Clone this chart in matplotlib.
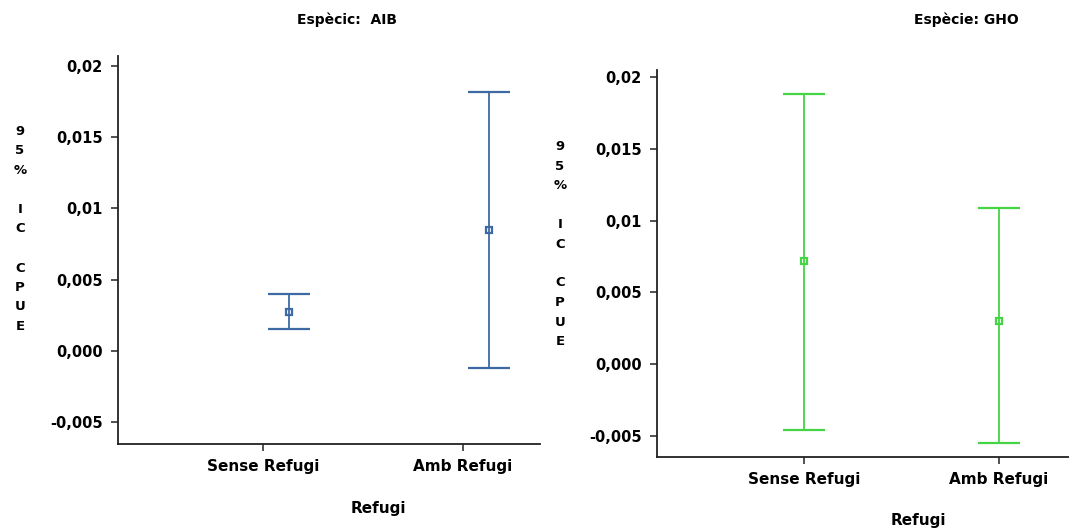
import numpy as np
import matplotlib.pyplot as plt

# categories and 95% CI of CPUE per species
categories = ['Sense Refugi', 'Amb Refugi']
yticks = [-0.005, 0.0, 0.005, 0.01, 0.015, 0.02]
ytick_labels = ['-0,005', '0,000', '0,005', '0,01', '0,015', '0,02']

aib_mean = [0.0027, 0.0085]
aib_low = [0.0015, -0.0012]
aib_high = [0.0040, 0.0182]

gho_mean = [0.0072, 0.0030]
gho_low = [-0.00455, -0.0055]
gho_high = [0.0188, 0.0109]

fig = plt.figure(figsize=(10.69, 5.28), dpi=100)


def panel(rect, mean, low, high, color, xoff, xlim, ylim):
    ax = fig.add_axes(rect)
    x = np.arange(len(categories)) + xoff
    mean = np.array(mean)
    yerr = [mean - np.array(low), np.array(high) - mean]
    ax.errorbar(x, mean, yerr=yerr, fmt='s', color=color, ms=4, mfc='none',
                mew=1.6, capsize=15, elinewidth=1.3, capthick=1.3)
    ax.set_xticks(np.arange(len(categories)))
    ax.set_xticklabels(categories, fontsize=11, fontweight='bold')
    ax.set_yticks(yticks)
    ax.set_yticklabels(ytick_labels, fontsize=10.5, fontweight='bold')
    ax.set_xlim(*xlim)
    ax.set_ylim(*ylim)
    for s in ['top', 'right']:
        ax.spines[s].set_visible(False)
    for s in ['left', 'bottom']:
        ax.spines[s].set_linewidth(1.3)
        ax.spines[s].set_color('#222222')
    ax.tick_params(length=5, width=1.1, color='#222222', pad=6)
    return ax


panel([0.1104, 0.1591, 0.3947, 0.7348], aib_mean, aib_low, aib_high,
      '#3d6aa2', 0.13, (-0.725, 1.385), (-0.00654, 0.0207))
panel([0.6146, 0.1345, 0.3854, 0.7330], gho_mean, gho_low, gho_high,
      '#44d444', 0.0, (-0.754, 1.36), (-0.00646, 0.0205))

fig.text(347 / 1069, 1 - 20 / 528, 'Espècic:  AIB', ha='center', va='center',
         fontsize=10, fontweight='bold')
fig.text(966 / 1069, 1 - 20 / 528, 'Espècie: GHO', ha='center', va='center',
         fontsize=10, fontweight='bold')

ylab = '9\n5\n%\n\nI\nC\n\nC\nP\nU\nE'
fig.text(20 / 1069, 1 - 229 / 528, ylab, ha='center', va='center',
         fontsize=9.5, fontweight='bold', linespacing=1.65)
fig.text(560 / 1069, 1 - 244 / 528, ylab, ha='center', va='center',
         fontsize=9.5, fontweight='bold', linespacing=1.65)

fig.text(378 / 1069, 1 - 508 / 528, 'Refugi', ha='center', va='center',
         fontsize=11, fontweight='bold')
fig.text(918 / 1069, 1 - 520 / 528, 'Refugi', ha='center', va='center',
         fontsize=11, fontweight='bold')

fig.savefig('out.png', dpi=100)
